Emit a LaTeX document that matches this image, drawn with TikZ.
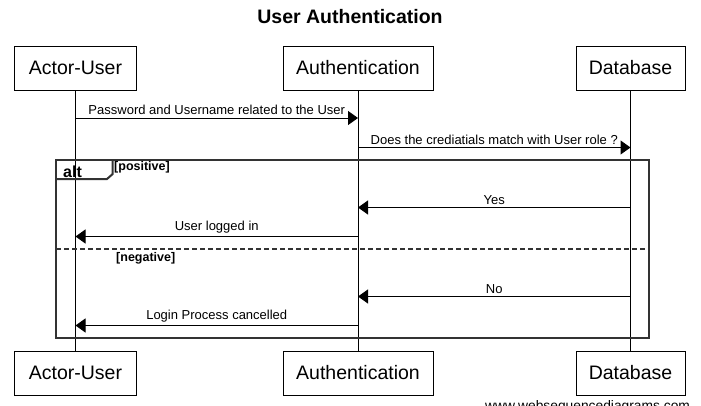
\documentclass[tikz,border=0pt]{standalone}
\usepackage{fontspec}
\setmainfont{Liberation Sans}
\usepackage{tikz}
\usetikzlibrary{arrows.meta, positioning, calc}
\newcommand{\fsz}[1]{\fontsize{#1}{#1}\selectfont}

\begin{document}
\begin{tikzpicture}[x=1pt, y=-1pt, >={Triangle[length=10pt, width=14pt]},
    partbox/.style={rectangle, draw, line width=1pt, minimum height=44pt,
      inner sep=0pt, font=\fsz{19.5}},
    lifeline/.style={line width=1pt},
    msgarr/.style={->, line width=1pt},
    msglbl/.style={above, inner sep=0pt, yshift=2.5pt, font=\fsz{13}},
    frame/.style={line width=2pt, draw=black!80},
    guard/.style={anchor=base west, inner sep=0pt, font=\bfseries\fsz{12.5}},
  ]
    \useasboundingbox (0,0) rectangle (701,405);

    % Title
    \node[font=\bfseries\fsz{19.5}] (title) at (350,17) {User Authentication};

    % Participants (top and bottom)
    \node[partbox, minimum width=122.7pt] (userT) at (75.5,68)  {Actor-User};
    \node[partbox, minimum width=150pt]   (authT) at (358,68)   {Authentication};
    \node[partbox, minimum width=109pt]   (dbT)   at (630.5,68) {Database};
    \node[partbox, minimum width=122.7pt] (userB) at (75.5,373)  {Actor-User};
    \node[partbox, minimum width=150pt]   (authB) at (358,373)   {Authentication};
    \node[partbox, minimum width=109pt]   (dbB)   at (630.5,373) {Database};

    \draw[lifeline] (userT) -- (userB);
    \draw[lifeline] (authT) -- (authB);
    \draw[lifeline] (dbT)   -- (dbB);

    % alt frame
    \draw[frame] (56,160) rectangle (649,338);
    \draw[frame] (56,179) -- (107,179) -- (112.7,174) -- (112.7,160);
    \draw[frame, dash pattern=on 5pt off 3pt] (56,249) -- (649,249);
    \node[guard, font=\bfseries\fsz{16}] (altlbl) at (63,177.5) {alt};
    \node[guard] (poslbl) at (114,170.5) {[positive]};
    \node[guard] (neglbl) at (116,261.5) {[negative]};

    % Messages
    \draw[msgarr] (userT |- 0,118) -- node[msglbl] {Password and Username related to the User} (authT |- 0,118);
    \draw[msgarr] (authT |- 0,147.5) -- node[msglbl] {Does the crediatials match with User role ?} (dbT |- 0,147.5);
    \draw[msgarr] (dbT |- 0,207.5) -- node[msglbl] {Yes} (authT |- 0,207.5);
    \draw[msgarr] (authT |- 0,236.5) -- node[msglbl] {User logged in} (userT |- 0,236.5);
    \draw[msgarr] (dbT |- 0,296.5) -- node[msglbl] {No} (authT |- 0,296.5);
    \draw[msgarr] (authT |- 0,325.5) -- node[msglbl] {Login Process cancelled} (userT |- 0,325.5);

    % Footer
    \node[anchor=north west, inner sep=0pt, font=\fsz{13.8}] (wsd) at (485,400.5) {www.websequencediagrams.com};
  \end{tikzpicture}
\end{document}
